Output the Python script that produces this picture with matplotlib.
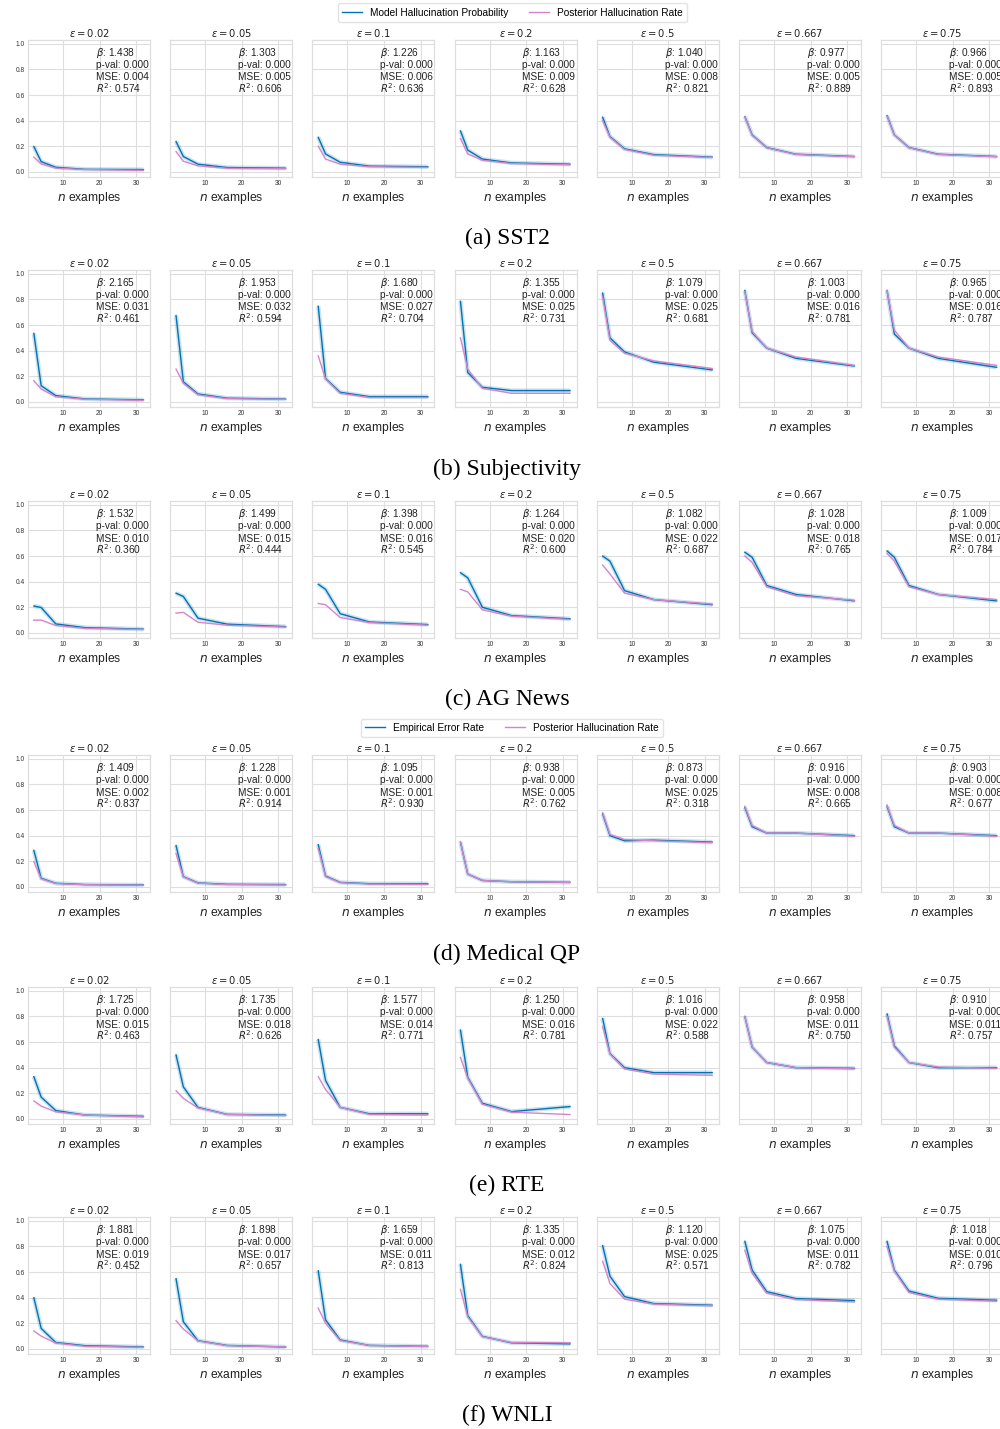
import matplotlib.pyplot as plt
from matplotlib.lines import Line2D

n_examples = [2, 4, 8, 16, 32]
eps_labels = ['0.02', '0.05', '0.1', '0.2', '0.5', '0.667', '0.75']

# (a) SST2
sst2_model = [[0.198, 0.080, 0.036, 0.020, 0.018],
              [0.237, 0.120, 0.060, 0.034, 0.029],
              [0.270, 0.140, 0.075, 0.045, 0.040],
              [0.320, 0.170, 0.100, 0.070, 0.060],
              [0.427, 0.276, 0.180, 0.135, 0.115],
              [0.432, 0.289, 0.190, 0.138, 0.120],
              [0.440, 0.289, 0.190, 0.138, 0.120]]
sst2_post = [[0.115, 0.062, 0.029, 0.018, 0.012],
             [0.159, 0.083, 0.047, 0.028, 0.024],
             [0.200, 0.100, 0.060, 0.040, 0.035],
             [0.260, 0.140, 0.090, 0.065, 0.055],
             [0.400, 0.270, 0.175, 0.130, 0.112],
             [0.430, 0.285, 0.188, 0.136, 0.118],
             [0.435, 0.287, 0.188, 0.136, 0.118]]
sst2_beta = ['1.438', '1.303', '1.226', '1.163', '1.040', '0.977', '0.966']
sst2_pval = ['0.000'] * 7
sst2_mse = ['0.004', '0.005', '0.006', '0.009', '0.008', '0.005', '0.005']
sst2_r2 = ['0.574', '0.606', '0.636', '0.628', '0.821', '0.889', '0.893']

# (b) Subjectivity
subj_model = [[0.535, 0.126, 0.049, 0.023, 0.016],
              [0.674, 0.157, 0.062, 0.029, 0.022],
              [0.747, 0.183, 0.075, 0.041, 0.041],
              [0.786, 0.230, 0.114, 0.088, 0.088],
              [0.850, 0.500, 0.390, 0.310, 0.250],
              [0.870, 0.540, 0.420, 0.340, 0.280],
              [0.870, 0.530, 0.420, 0.340, 0.270]]
subj_post = [[0.165, 0.100, 0.040, 0.020, 0.012],
             [0.256, 0.145, 0.055, 0.025, 0.020],
             [0.360, 0.178, 0.067, 0.034, 0.034],
             [0.500, 0.256, 0.106, 0.067, 0.067],
             [0.820, 0.480, 0.380, 0.320, 0.260],
             [0.860, 0.550, 0.420, 0.350, 0.285],
             [0.870, 0.560, 0.420, 0.350, 0.285]]
subj_beta = ['2.165', '1.953', '1.680', '1.355', '1.079', '1.003', '0.965']
subj_pval = ['0.000'] * 7
subj_mse = ['0.031', '0.032', '0.027', '0.025', '0.025', '0.016', '0.016']
subj_r2 = ['0.461', '0.594', '0.704', '0.731', '0.681', '0.781', '0.787']

# (c) AG News
ag_model = [[0.210, 0.198, 0.070, 0.041, 0.029],
            [0.310, 0.284, 0.115, 0.068, 0.049],
            [0.380, 0.340, 0.150, 0.085, 0.065],
            [0.470, 0.430, 0.200, 0.135, 0.110],
            [0.600, 0.560, 0.330, 0.260, 0.220],
            [0.630, 0.590, 0.370, 0.300, 0.250],
            [0.640, 0.590, 0.370, 0.300, 0.250]]
ag_post = [[0.099, 0.100, 0.057, 0.035, 0.026],
           [0.154, 0.160, 0.083, 0.060, 0.045],
           [0.230, 0.220, 0.120, 0.080, 0.060],
           [0.340, 0.320, 0.180, 0.130, 0.105],
           [0.530, 0.460, 0.310, 0.260, 0.225],
           [0.600, 0.550, 0.360, 0.290, 0.255],
           [0.620, 0.560, 0.360, 0.300, 0.260]]
ag_beta = ['1.532', '1.499', '1.398', '1.264', '1.082', '1.028', '1.009']
ag_pval = ['0.000'] * 7
ag_mse = ['0.010', '0.015', '0.016', '0.020', '0.022', '0.018', '0.017']
ag_r2 = ['0.360', '0.444', '0.545', '0.600', '0.687', '0.765', '0.784']

# (d) Medical QP
med_model = [[0.285, 0.067, 0.028, 0.018, 0.015],
             [0.323, 0.080, 0.031, 0.020, 0.018],
             [0.330, 0.085, 0.035, 0.025, 0.025],
             [0.350, 0.100, 0.050, 0.040, 0.035],
             [0.570, 0.400, 0.360, 0.365, 0.350],
             [0.620, 0.470, 0.420, 0.420, 0.400],
             [0.630, 0.470, 0.420, 0.420, 0.400]]
med_post = [[0.197, 0.062, 0.026, 0.017, 0.013],
            [0.260, 0.077, 0.029, 0.018, 0.015],
            [0.300, 0.080, 0.033, 0.022, 0.020],
            [0.350, 0.100, 0.050, 0.040, 0.035],
            [0.580, 0.410, 0.370, 0.360, 0.345],
            [0.630, 0.480, 0.420, 0.420, 0.395],
            [0.640, 0.480, 0.420, 0.420, 0.395]]
med_beta = ['1.409', '1.228', '1.095', '0.938', '0.873', '0.916', '0.903']
med_pval = ['0.000'] * 7
med_mse = ['0.002', '0.001', '0.001', '0.005', '0.025', '0.008', '0.008']
med_r2 = ['0.837', '0.914', '0.930', '0.762', '0.318', '0.665', '0.677']

# (e) RTE
rte_model = [[0.330, 0.170, 0.065, 0.030, 0.020],
             [0.500, 0.250, 0.090, 0.035, 0.030],
             [0.620, 0.300, 0.090, 0.040, 0.040],
             [0.694, 0.325, 0.122, 0.057, 0.096],
             [0.784, 0.510, 0.400, 0.361, 0.361],
             [0.800, 0.560, 0.440, 0.400, 0.395],
             [0.820, 0.570, 0.440, 0.400, 0.400]]
rte_post = [[0.140, 0.100, 0.055, 0.030, 0.015],
            [0.220, 0.160, 0.085, 0.035, 0.025],
            [0.330, 0.230, 0.090, 0.035, 0.030],
            [0.480, 0.317, 0.114, 0.052, 0.034],
            [0.720, 0.506, 0.390, 0.350, 0.340],
            [0.800, 0.560, 0.440, 0.400, 0.390],
            [0.800, 0.560, 0.440, 0.405, 0.395]]
rte_beta = ['1.725', '1.735', '1.577', '1.250', '1.016', '0.958', '0.910']
rte_pval = ['0.000'] * 7
rte_mse = ['0.015', '0.018', '0.014', '0.016', '0.022', '0.011', '0.011']
rte_r2 = ['0.463', '0.626', '0.771', '0.781', '0.588', '0.750', '0.757']

# (f) WNLI
wnli_model = [[0.400, 0.160, 0.050, 0.025, 0.015],
              [0.548, 0.212, 0.064, 0.027, 0.015],
              [0.610, 0.227, 0.070, 0.027, 0.020],
              [0.660, 0.260, 0.098, 0.047, 0.039],
              [0.806, 0.568, 0.408, 0.354, 0.341],
              [0.840, 0.615, 0.447, 0.393, 0.377],
              [0.840, 0.615, 0.452, 0.395, 0.380]]
wnli_post = [[0.140, 0.100, 0.045, 0.020, 0.012],
             [0.220, 0.155, 0.062, 0.025, 0.015],
             [0.318, 0.200, 0.065, 0.027, 0.018],
             [0.465, 0.250, 0.095, 0.050, 0.047],
             [0.685, 0.510, 0.388, 0.349, 0.336],
             [0.770, 0.590, 0.434, 0.385, 0.367],
             [0.800, 0.607, 0.440, 0.388, 0.372]]
wnli_beta = ['1.881', '1.898', '1.659', '1.335', '1.120', '1.075', '1.018']
wnli_pval = ['0.000'] * 7
wnli_mse = ['0.019', '0.017', '0.011', '0.012', '0.025', '0.011', '0.010']
wnli_r2 = ['0.452', '0.657', '0.813', '0.824', '0.571', '0.782', '0.796']

rows = [
    ('(a) SST2', sst2_model, sst2_post, sst2_beta, sst2_pval, sst2_mse, sst2_r2),
    ('(b) Subjectivity', subj_model, subj_post, subj_beta, subj_pval, subj_mse, subj_r2),
    ('(c) AG News', ag_model, ag_post, ag_beta, ag_pval, ag_mse, ag_r2),
    ('(d) Medical QP', med_model, med_post, med_beta, med_pval, med_mse, med_r2),
    ('(e) RTE', rte_model, rte_post, rte_beta, rte_pval, rte_mse, rte_r2),
    ('(f) WNLI', wnli_model, wnli_post, wnli_beta, wnli_pval, wnli_mse, wnli_r2),
]

blue = '#0173b2'
pink = '#d783cb'
grid_c = '#dedede'
text_c = '#222222'

plt.rcParams['font.family'] = ['Liberation Sans', 'DejaVu Sans']
plt.rcParams['mathtext.fontset'] = 'dejavusans'

W, H = 1000, 1429
fig = plt.figure(figsize=(10, 14.29), dpi=100)

# pixel layout of the composite figure
row_tops = [40, 270, 501, 755, 987, 1217]
caption_y = [238, 469, 699, 954, 1185, 1415]
ax_w, ax_h = 122, 137
lefts = [28 + i * 142.2 for i in range(7)]

for r, (caption, model, post, beta, pval, mse, r2) in enumerate(rows):
    for i in range(7):
        ax = fig.add_axes([lefts[i] / W, 1 - (row_tops[r] + ax_h) / H, ax_w / W, ax_h / H])
        ax.set_facecolor('white')
        ax.grid(True, color=grid_c, linewidth=0.8)
        ax.set_axisbelow(True)
        for s in ax.spines.values():
            s.set_color(grid_c)
            s.set_linewidth(0.9)
        # faint band around the model curve
        ax.plot(n_examples, model[i], color=blue, linewidth=3.2, alpha=0.2, solid_capstyle='butt')
        ax.plot(n_examples, model[i], color=blue, linewidth=1.0)
        ax.plot(n_examples, post[i], color=pink, linewidth=1.0)
        ax.set_xlim(0.4, 33.8)
        ax.set_ylim(-0.04, 1.03)
        ax.set_xticks([10, 20, 30])
        ax.set_yticks([0.0, 0.2, 0.4, 0.6, 0.8, 1.0])
        ax.tick_params(length=0, labelsize=4.8, labelcolor='#333333', pad=2.5)
        if i > 0:
            ax.set_yticklabels([])
        ax.set_title(r'$\varepsilon = %s$' % eps_labels[i], fontsize=7.2, pad=2.5, color=text_c)
        ax.set_xlabel(r'$n$ examples', fontsize=8.7, labelpad=1.5, color=text_c)
        stats = ['$\\beta$: ' + beta[i], 'p-val: ' + pval[i],
                 'MSE: ' + mse[i], '$R^2$: ' + r2[i]]
        for k, line in enumerate(stats):
            ax.text(0.555, 1 - (15.7 + 12.4 * k) / ax_h, line, transform=ax.transAxes,
                    va='baseline', ha='left', fontsize=7.3, color=text_c, clip_on=False)
    fig.text(507 / W, 1 - caption_y[r] / H, caption, ha='center', va='center',
             fontsize=17, family='Liberation Serif')

handles = [Line2D([], [], color=blue, linewidth=1.0), Line2D([], [], color=pink, linewidth=1.0)]
fig.legend(handles, ['Model Hallucination Probability', 'Posterior Hallucination Rate'],
           loc='center', bbox_to_anchor=(512.5 / W, 1 - 12.5 / H), ncol=2, fontsize=7.3,
           frameon=True, edgecolor='#dddddd', fancybox=True, borderpad=0.4)
fig.legend(handles, ['Empirical Error Rate', 'Posterior Hallucination Rate'],
           loc='center', bbox_to_anchor=(512 / W, 1 - 728 / H), ncol=2, fontsize=7.3,
           frameon=True, edgecolor='#dddddd', fancybox=True, borderpad=0.4)

fig.savefig('out.png', dpi=100)
